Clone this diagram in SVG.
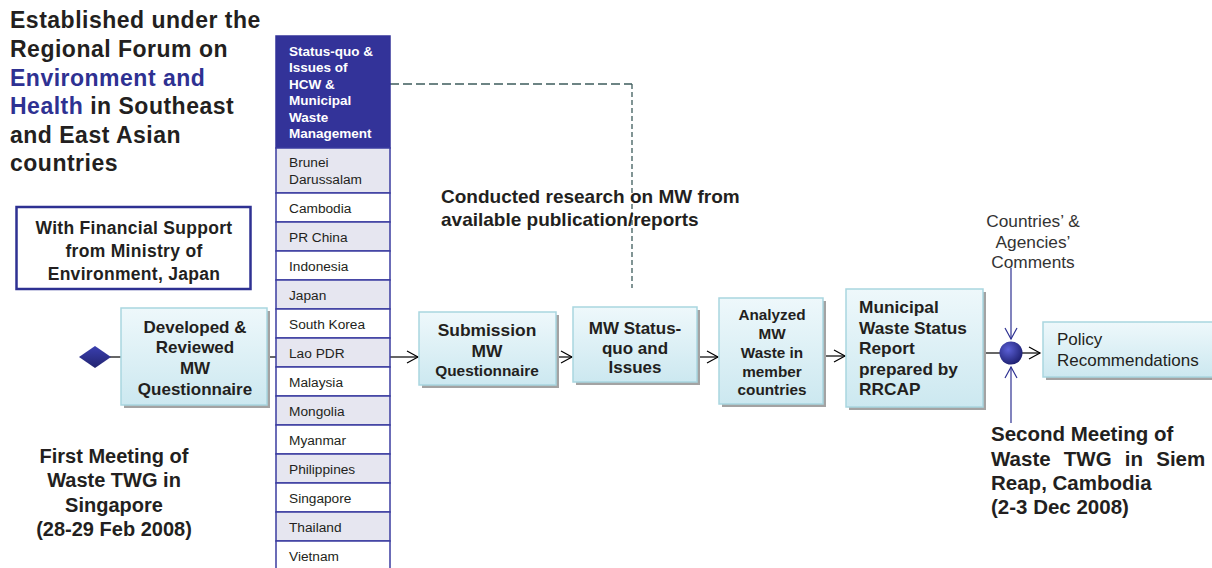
<svg xmlns="http://www.w3.org/2000/svg" width="1212" height="568" viewBox="0 0 1212 568">
<defs>
<linearGradient id="boxg" x1="0" y1="0" x2="0" y2="1">
<stop offset="0" stop-color="#EEF8FB"/>
<stop offset="1" stop-color="#CCE8F0"/>
</linearGradient>
<radialGradient id="ballg" cx="0.38" cy="0.35" r="0.7">
<stop offset="0" stop-color="#5B60D6"/>
<stop offset="1" stop-color="#1C1E6E"/>
</radialGradient>
<linearGradient id="diag" x1="0" y1="0" x2="0" y2="1">
<stop offset="0" stop-color="#3A3FB0"/>
<stop offset="1" stop-color="#22246F"/>
</linearGradient>
<marker id="arr" markerWidth="14" markerHeight="14" refX="12" refY="7" orient="auto" markerUnits="userSpaceOnUse">
<path d="M1,1 L12,7 L1,13" fill="none" stroke="#000" stroke-width="1.2"/>
</marker>
<marker id="arrb" markerWidth="14" markerHeight="14" refX="12" refY="7" orient="auto" markerUnits="userSpaceOnUse">
<path d="M1,1 L12,7 L1,13" fill="none" stroke="#2E3192" stroke-width="1.2"/>
</marker>
<style>
.t{font-family:"Liberation Sans",Arial,sans-serif;fill:#231F20}
.b{font-weight:bold}
.blue{fill:#2E3192}
.box{fill:url(#boxg);stroke:#A9D6E0;stroke-width:1.5}
.sh{fill:#A3A3A3}
.row{stroke:#3B3DA0;stroke-width:1.5}
.ra{fill:#E6E6F0}
.rb{fill:#FFFFFF}
.rt{font-family:"Liberation Sans",Arial,sans-serif;font-size:13.7px;fill:#231F20}
.ht{font-family:"Liberation Sans",Arial,sans-serif;font-size:13.5px;font-weight:bold;fill:#FFFFFF}
.ln{stroke:#000;stroke-width:1.2;fill:none}
.lb{stroke:#2E3192;stroke-width:1.2;fill:none}
.dash{stroke:#3E5C5C;stroke-width:1.3;fill:none}
</style>
</defs>

<g id="title" class="t b" font-size="23" letter-spacing="0.5">
<text x="10" y="28">Established under the</text>
<text x="10" y="57">Regional Forum on</text>
<text x="10" y="86" class="blue">Environment and</text>
<text x="10" y="114"><tspan class="blue">Health</tspan> in Southeast</text>
<text x="10" y="143">and East Asian</text>
<text x="10" y="171">countries</text>
</g>

<g id="financial">
<rect x="16.5" y="207" width="234" height="82" fill="#fff" stroke="#2E3192" stroke-width="2.5"/>
<g class="t b" font-size="17.5" text-anchor="middle" letter-spacing="0.3">
<text x="134" y="234">With Financial Support</text>
<text x="134" y="257">from Ministry of</text>
<text x="134" y="280">Environment, Japan</text>
</g>
</g>

<g id="connectors">
<line class="ln" x1="110" y1="357" x2="121" y2="357"/>
<line class="ln" x1="267" y1="357" x2="276" y2="357"/>
<line class="ln" x1="390" y1="357" x2="418" y2="357" marker-end="url(#arr)"/>
<line class="ln" x1="556" y1="357" x2="572" y2="357" marker-end="url(#arr)"/>
<line class="ln" x1="697" y1="357" x2="718" y2="357" marker-end="url(#arr)"/>
<line class="ln" x1="823" y1="356" x2="845" y2="356" marker-end="url(#arr)"/>
<line class="ln" x1="983" y1="353" x2="1000" y2="353"/>
<line class="ln" x1="1022" y1="353" x2="1040" y2="353" marker-end="url(#arr)"/>
<line class="lb" x1="1011" y1="268" x2="1011" y2="339" marker-end="url(#arrb)"/>
<line class="lb" x1="1011" y1="423" x2="1011" y2="367" marker-end="url(#arrb)"/>
<path class="dash" d="M390,84 H632" stroke-dasharray="9,4"/>
<path class="dash" d="M632,84 V288" stroke-dasharray="5,3"/>
</g>

<g id="start-diamond">
<polygon points="79,357 95,346 111,357 95,368" fill="url(#diag)"/>
</g>

<g id="developed">
<rect class="sh" x="124" y="311" width="146" height="97"/>
<rect class="box" x="121" y="308" width="146" height="97"/>
<g class="t b" font-size="17" text-anchor="middle">
<text x="195" y="333">Developed &amp;</text>
<text x="195" y="353">Reviewed</text>
<text x="195" y="374">MW</text>
<text x="195" y="395">Questionnaire</text>
</g>
</g>

<g id="countries-table">
<rect x="276" y="36" width="114" height="112" fill="#333399" stroke="#333399" stroke-width="1.5"/>
<text class="ht" x="289" y="56">Status-quo &amp;</text>
<text class="ht" x="289" y="72">Issues of</text>
<text class="ht" x="289" y="89">HCW &amp;</text>
<text class="ht" x="289" y="105">Municipal</text>
<text class="ht" x="289" y="122">Waste</text>
<text class="ht" x="289" y="138">Management</text>
<rect class="row ra" x="276" y="148" width="114" height="45"/>
<rect class="row rb" x="276" y="193" width="114" height="29"/>
<rect class="row ra" x="276" y="222" width="114" height="29"/>
<rect class="row rb" x="276" y="251" width="114" height="29"/>
<rect class="row ra" x="276" y="280" width="114" height="29"/>
<rect class="row rb" x="276" y="309" width="114" height="29"/>
<rect class="row ra" x="276" y="338" width="114" height="29"/>
<rect class="row rb" x="276" y="367" width="114" height="29"/>
<rect class="row ra" x="276" y="396" width="114" height="29"/>
<rect class="row rb" x="276" y="425" width="114" height="29"/>
<rect class="row ra" x="276" y="454" width="114" height="29"/>
<rect class="row rb" x="276" y="483" width="114" height="29"/>
<rect class="row ra" x="276" y="512" width="114" height="29"/>
<rect class="row rb" x="276" y="541" width="114" height="32"/>
<text class="rt" x="289" y="167">Brunei</text>
<text class="rt" x="289" y="184">Darussalam</text>
<text class="rt" x="289" y="213">Cambodia</text>
<text class="rt" x="289" y="242">PR China</text>
<text class="rt" x="289" y="271">Indonesia</text>
<text class="rt" x="289" y="300">Japan</text>
<text class="rt" x="289" y="329">South Korea</text>
<text class="rt" x="289" y="358">Lao PDR</text>
<text class="rt" x="289" y="387">Malaysia</text>
<text class="rt" x="289" y="416">Mongolia</text>
<text class="rt" x="289" y="445">Myanmar</text>
<text class="rt" x="289" y="474">Philippines</text>
<text class="rt" x="289" y="503">Singapore</text>
<text class="rt" x="289" y="532">Thailand</text>
<text class="rt" x="289" y="561">Vietnam</text>
</g>

<g id="first-meeting" class="t b" font-size="20" text-anchor="middle">
<text x="114" y="463">First Meeting of</text>
<text x="114" y="487">Waste TWG in</text>
<text x="114" y="512">Singapore</text>
<text x="114" y="536">(28-29 Feb 2008)</text>
</g>

<g id="research-label" class="t b" font-size="19">
<text x="441" y="203">Conducted research on MW from</text>
<text x="441" y="226">available publication/reports</text>
</g>

<g id="submission">
<rect class="sh" x="422" y="315" width="137" height="73"/>
<rect class="box" x="419" y="312" width="137" height="73"/>
<g class="t b" text-anchor="middle">
<text x="487" y="336" font-size="17.4">Submission</text>
<text x="487" y="357" font-size="17.4">MW</text>
<text x="487" y="376" font-size="15.4">Questionnaire</text>
</g>
</g>

<g id="mw-status">
<rect class="sh" x="576" y="310" width="124" height="75"/>
<rect class="box" x="573" y="307" width="124" height="75"/>
<g class="t b" font-size="17" text-anchor="middle">
<text x="635" y="334">MW Status-</text>
<text x="635" y="354">quo and</text>
<text x="635" y="373">Issues</text>
</g>
</g>

<g id="analyzed">
<rect class="sh" x="722" y="301" width="104" height="106"/>
<rect class="box" x="719" y="298" width="104" height="106"/>
<g class="t b" font-size="15.3" text-anchor="middle">
<text x="772" y="320">Analyzed</text>
<text x="772" y="339">MW</text>
<text x="772" y="358">Waste in</text>
<text x="772" y="377">member</text>
<text x="772" y="395">countries</text>
</g>
</g>

<g id="report">
<rect class="sh" x="849" y="292" width="137" height="118"/>
<rect class="box" x="846" y="289" width="137" height="118"/>
<g class="t b" font-size="17.3">
<text x="859" y="313">Municipal</text>
<text x="859" y="334">Waste Status</text>
<text x="859" y="354">Report</text>
<text x="859" y="375">prepared by</text>
<text x="859" y="395">RRCAP</text>
</g>
</g>

<g id="merge-point">
<circle cx="1011" cy="353" r="11.5" fill="url(#ballg)"/>
</g>

<g id="comments" class="t" font-size="17.3" text-anchor="middle" style="fill:#333">
<text x="1033" y="227">Countries’ &amp;</text>
<text x="1033" y="248">Agencies’</text>
<text x="1033" y="268">Comments</text>
</g>

<g id="policy">
<rect class="sh" x="1046" y="325" width="170" height="55"/>
<rect class="box" x="1043" y="322" width="172" height="55"/>
<text class="t" font-size="17" x="1057" y="345">Policy</text>
<text class="t" font-size="17" x="1057" y="366">Recommendations</text>
</g>

<g id="second-meeting" class="t b" font-size="20.5">
<text x="991" y="441">Second Meeting of</text>
<text x="991" y="466" word-spacing="7.5">Waste TWG in Siem</text>
<text x="991" y="490">Reap, Cambodia</text>
<text x="991" y="514">(2-3 Dec 2008)</text>
</g>
</svg>
